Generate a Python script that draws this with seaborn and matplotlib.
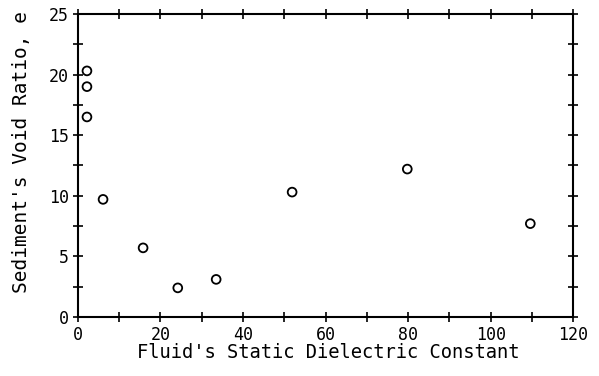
"""
Void ratio of sediment vs. static dielectric constant of the pore fluid
"""

import numpy as np
import pandas as pd
import matplotlib
matplotlib.use('Agg')
import matplotlib.pyplot as plt
import seaborn as sns
from matplotlib.ticker import MultipleLocator

# Data
dielectric = [2.2, 2.2, 2.2, 6.1, 15.8, 24.2, 33.5, 51.9, 79.8, 109.6]
void_ratio = [20.3, 19.0, 16.5, 9.7, 5.7, 2.4, 3.1, 10.3, 12.2, 7.7]

x_ticks = [0, 20, 40, 60, 80, 100, 120]
y_ticks = [0, 5, 10, 15, 20, 25]

df = pd.DataFrame({'dielectric': dielectric, 'void_ratio': void_ratio})

sns.set_style('ticks')
plt.rcParams['font.family'] = ['DejaVu Sans Mono', 'DejaVu Sans']
plt.rcParams['text.color'] = 'black'
plt.rcParams['axes.labelcolor'] = 'black'
plt.rcParams['xtick.color'] = 'black'
plt.rcParams['ytick.color'] = 'black'

fig = plt.figure(figsize=(5.99, 3.76), dpi=100)
ax = fig.add_axes([0.130, 0.157, 0.827, 0.806])

sns.scatterplot(
    data=df, x='dielectric', y='void_ratio', ax=ax,
    marker='o', s=40, facecolor='none', edgecolor='black', linewidth=1.3
)

ax.set_xlim(0, 120)
ax.set_ylim(0, 25)
ax.set_xticks(x_ticks)
ax.set_yticks(y_ticks)
ax.xaxis.set_minor_locator(MultipleLocator(10))
ax.yaxis.set_minor_locator(MultipleLocator(2.5))

for side in ['top', 'right', 'bottom', 'left']:
    ax.spines[side].set_visible(True)
    ax.spines[side].set_linewidth(1.5)
    ax.spines[side].set_color('black')

ax.tick_params(which='both', direction='inout', top=True, right=True,
               width=1.2, length=7, labelsize=12, pad=3)
ax.tick_params(labeltop=False, labelright=False)

ax.set_xlabel("Fluid's Static Dielectric Constant", fontsize=13.5)
ax.set_ylabel("Sediment's Void Ratio, e", fontsize=14)
ax.xaxis.set_label_coords(0.505, -0.116, transform=ax.transAxes)
ax.yaxis.set_label_coords(-0.113, 0.545, transform=ax.transAxes)
ax.xaxis.label.set_va('center')
ax.yaxis.label.set_va('center')

fig.savefig('out.png', dpi=100)
